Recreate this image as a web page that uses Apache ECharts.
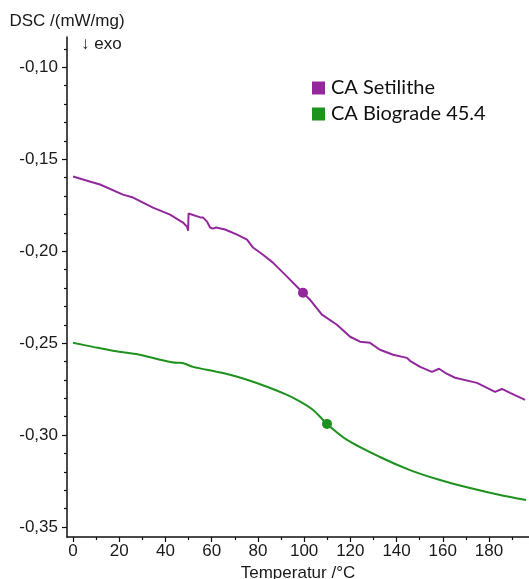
<!DOCTYPE html>
<html><head><meta charset="utf-8">
<script src="https://cdn.jsdelivr.net/npm/echarts@6/dist/echarts.min.js"></script>
<style>html,body{margin:0;padding:0;background:#fff}#c{width:529px;height:579px}</style>
</head><body><div id="c"></div>
<script>
// ---- data ----
const seriesNames = ['CA Setilithe', 'CA Biograde 45.4'];
const setilitheT = [0, 8.7, 11.7, 21.6, 26.0, 34.6, 42.0, 47.6, 49.3, 49.8, 50.0, 50.2, 55.4, 56.3, 57.1, 58.0, 59.3, 60.6, 61.9, 65.8, 71.0, 75.3, 77.9, 82.2, 86.5, 92.6, 99.5, 102.6, 107.7, 114.2, 119.9, 124.2, 128.5, 132.8, 138.5, 144.5, 145.8, 150.2, 155.3, 158.4, 161.0, 165.3, 174.8, 182.6, 185.6, 189.1, 195.6];
const setilitheV = [-0.1594, -0.1626, -0.1637, -0.1692, -0.1708, -0.1763, -0.1801, -0.1844, -0.1866, -0.1888, -0.1795, -0.1790, -0.1817, -0.1817, -0.1812, -0.1839, -0.1871, -0.1877, -0.1871, -0.1882, -0.1910, -0.1937, -0.1980, -0.2019, -0.2062, -0.2138, -0.2226, -0.2264, -0.2345, -0.2400, -0.2465, -0.2492, -0.2498, -0.2536, -0.2563, -0.2580, -0.2596, -0.2629, -0.2656, -0.2639, -0.2661, -0.2688, -0.2716, -0.2765, -0.2749, -0.2770, -0.2808];
const biogradeT = [0, 8.7, 17.3, 23.4, 29.0, 37.6, 45.0, 46.5, 51.9, 62.3, 67.9, 75.3, 83.9, 92.6, 96.9, 103.9, 109.9, 118.6, 132.8, 145.8, 158.8, 171.8, 184.8, 196.0];
const biogradeV = [-0.2498, -0.2520, -0.2541, -0.2552, -0.2563, -0.2590, -0.2607, -0.2606, -0.2629, -0.2656, -0.2672, -0.2699, -0.2737, -0.2781, -0.2808, -0.2863, -0.2939, -0.3026, -0.3119, -0.3190, -0.3244, -0.3288, -0.3326, -0.3353];
const markerT = [99.5, 109.9];
const markerV = [-0.2226, -0.2939];
const xMajorTicks = [0, 20, 40, 60, 80, 100, 120, 140, 160, 180];
const xMinorTicks = [10, 30, 50, 70, 90, 110, 130, 150, 170, 190];
const yMajorTicks = [-0.35, -0.30, -0.25, -0.20, -0.15, -0.10];
const yMinorTicks = [-0.34, -0.33, -0.32, -0.31, -0.29, -0.28, -0.27, -0.26, -0.24, -0.23, -0.22, -0.21, -0.19, -0.18, -0.17, -0.16, -0.14, -0.13, -0.12, -0.11, -0.09];
const colors = ['#93289c', '#1e921e'];

const pairs = (t, v) => t.map((x, i) => [x, v[i]]);
const X_MIN = -2.6, X_MAX = 197.3, Y_MIN = -0.3554, Y_MAX = -0.0835;
const axisFont = {fontFamily: 'Liberation Sans, Arial, sans-serif', fontSize: 17, color: '#1a1a1a'};

const chart = echarts.init(document.getElementById('c'), null, {renderer: 'canvas'});
chart.setOption({
  animation: false,
  backgroundColor: '#fff',
  grid: {left: 67, right: 0, top: 37, bottom: 42, containLabel: false, outerBoundsMode: 'none'},
  legend: {
    data: seriesNames, orient: 'vertical', left: 307, top: 73,
    icon: 'rect', itemWidth: 13, itemHeight: 13, itemGap: 6,
    textStyle: {fontFamily: 'Lato, Open Sans, sans-serif', fontSize: 20, color: '#111', padding: [0,0,0,1]}
  },
  xAxis: [{
    type: 'value', min: X_MIN, max: X_MAX, position: 'bottom',
    name: 'Temperatur /°C', nameLocation: 'middle', nameGap: 24,
    nameTextStyle: axisFont,
    axisLine: {show: true, onZero: false, lineStyle: {color: '#111', width: 1.5}},
    axisTick: {show: true, length: 5, customValues: xMajorTicks, lineStyle: {color: '#111', width: 1.2}},
    axisLabel: {customValues: xMajorTicks, margin: 6, ...axisFont},
    splitLine: {show: false}
  }, {
    type: 'value', min: X_MIN, max: X_MAX, position: 'bottom',
    axisLine: {show: false, onZero: false},
    axisTick: {show: true, length: 3, customValues: xMinorTicks, lineStyle: {color: '#111', width: 1.2}},
    axisLabel: {show: false}, splitLine: {show: false}
  }],
  yAxis: [{
    type: 'value', min: Y_MIN, max: Y_MAX, position: 'left',
    name: 'DSC /(mW/mg)', nameLocation: 'end', nameGap: 7,
    nameTextStyle: axisFont,
    axisLine: {show: true, onZero: false, lineStyle: {color: '#111', width: 1.5}},
    axisTick: {show: true, length: 5, customValues: yMajorTicks, lineStyle: {color: '#111', width: 1.2}},
    axisLabel: {customValues: yMajorTicks, margin: 9, ...axisFont,
      formatter: v => v.toFixed(2).replace('.', ',')},
    splitLine: {show: false}
  }, {
    type: 'value', min: Y_MIN, max: Y_MAX, position: 'left',
    axisLine: {show: false, onZero: false},
    axisTick: {show: true, length: 3, customValues: yMinorTicks, lineStyle: {color: '#111', width: 1.2}},
    axisLabel: {show: false}, splitLine: {show: false}
  }],
  graphic: [{
    type: 'text', left: 81, top: 36,
    style: {text: '↓ exo', fontFamily: 'Liberation Sans, DejaVu Sans, sans-serif', fontSize: 17, fill: '#1a1a1a'}
  }],
  series: [{
    name: seriesNames[0], type: 'line', data: pairs(setilitheT, setilitheV),
    showSymbol: false, symbol: 'none', smooth: false,
    lineStyle: {color: colors[0], width: 2}, itemStyle: {color: colors[0]}
  }, {
    name: seriesNames[1], type: 'line', data: pairs(biogradeT, biogradeV),
    showSymbol: false, symbol: 'none', smooth: 0.3,
    lineStyle: {color: colors[1], width: 2}, itemStyle: {color: colors[1]}
  }, {
    name: 'marker1', type: 'scatter', data: [[markerT[0], markerV[0]]],
    symbolSize: 10, itemStyle: {color: colors[0], opacity: 1}
  }, {
    name: 'marker2', type: 'scatter', data: [[markerT[1], markerV[1]]],
    symbolSize: 10, itemStyle: {color: colors[1], opacity: 1}
  }]
});
</script>
</body></html>
